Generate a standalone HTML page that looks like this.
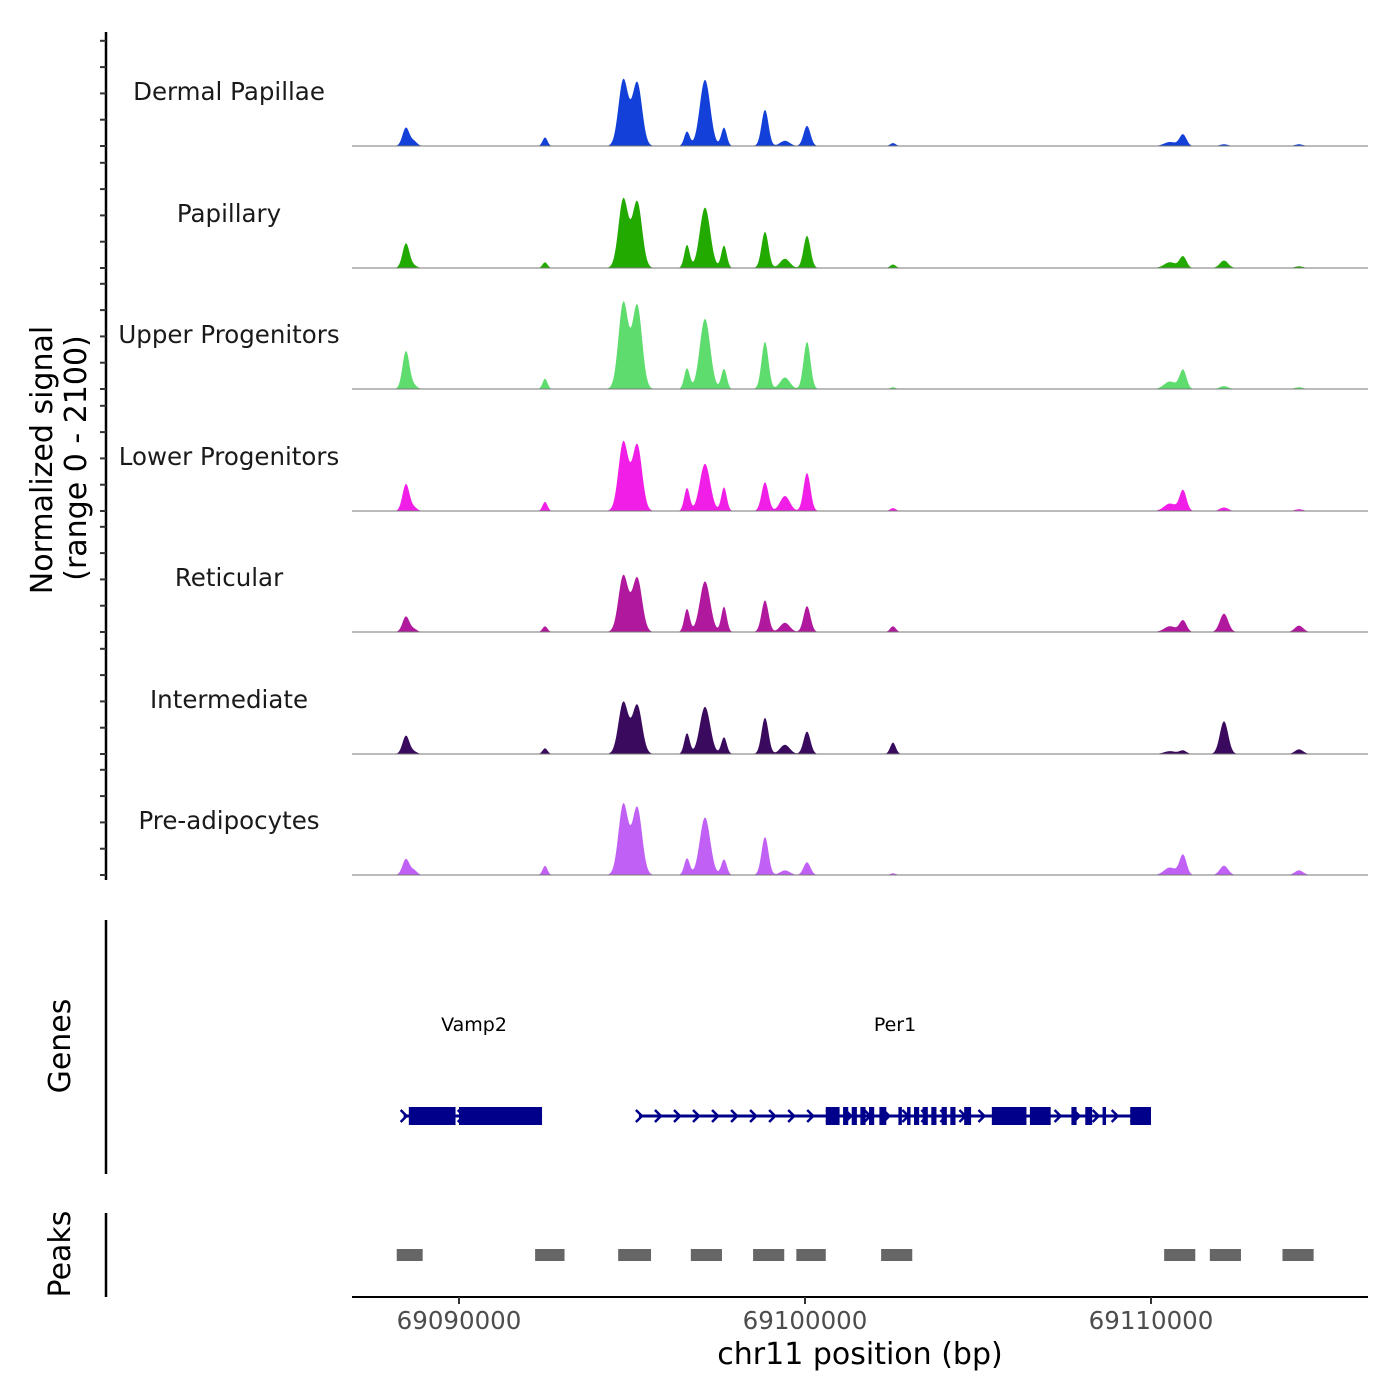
<!DOCTYPE html>
<html><head><meta charset="utf-8"><style>
body{margin:0;background:#fff;}
svg{display:block;font-family:"DejaVu Sans","Liberation Sans",sans-serif;}
</style></head><body>
<svg id="chart" width="1400" height="1400" viewBox="0 0 1400 1400" xmlns="http://www.w3.org/2000/svg">
<rect width="1400" height="1400" fill="#fff"/>
<g id="tracks"></g>
<line x1="106" y1="32" x2="106" y2="880" stroke="#000" stroke-width="2.5"/>
<g id="yticks"></g>
<text transform="translate(52,460) rotate(-90)" text-anchor="middle" font-size="30">Normalized signal</text>
<text transform="translate(86,458) rotate(-90)" text-anchor="middle" font-size="30">(range 0 - 2100)</text>
<line x1="106" y1="920" x2="106" y2="1174" stroke="#000" stroke-width="2.5"/>
<text transform="translate(70,1046) rotate(-90)" text-anchor="middle" font-size="30">Genes</text>
<line x1="106" y1="1213" x2="106" y2="1297" stroke="#000" stroke-width="2.5"/>
<text transform="translate(70,1254) rotate(-90)" text-anchor="middle" font-size="30">Peaks</text>
<g id="genes"></g>
<g id="peaks"></g>
<line x1="352" y1="1297" x2="1368" y2="1297" stroke="#000" stroke-width="2"/>
<g id="xticks"></g>
<text x="860" y="1364" text-anchor="middle" font-size="30">chr11 position (bp)</text>
</svg>
<script>
const trackNames=["Dermal Papillae","Papillary","Upper Progenitors","Lower Progenitors","Reticular","Intermediate","Pre-adipocytes"];
const trackColors=["#1340d8","#22aa00","#5edc6e","#f01ee6","#b0189e","#3a0a5e","#c060f5"];
const peakCenters=[69088468,69088700,69092486,69094750,69095150,69096590,69097110,69097659,69098844,69099420,69100058,69102543,69110550,69110925,69112110,69114277];
const peakWidths=[100,90,70,140,140,80,150,80,100,140,100,80,170,100,120,120];
const sigDP=[320,80,150,1150,1100,250,1150,320,630,90,350,50,70,200,30,30];
const sigPap=[430,40,100,1200,1150,400,1050,390,630,160,560,60,100,200,130,30];
const sigUp=[660,60,180,1500,1450,360,1220,350,820,200,820,30,130,330,50,30];
const sigLow=[470,60,160,1200,1150,400,820,410,500,260,660,50,130,360,60,30];
const sigRet=[270,50,100,980,940,400,880,440,550,160,450,100,100,200,320,110];
const sigInt=[320,40,100,900,850,360,820,290,630,160,390,200,50,60,570,80];
const sigPre=[280,80,160,1230,1170,290,1000,270,660,80,220,30,130,350,160,80];
const allSignals=[sigDP,sigPap,sigUp,sigLow,sigRet,sigInt,sigPre];
const geneNames=["Vamp2","Per1"];
const geneStarts=[69088400,69095200];
const geneEnds=[69092400,69110000];
const vampExons=[[69088550,69089900],[69090000,69092400]];
const per1Exons=[[69100600,69101000],[69101100,69101250],[69101350,69101500],[69101600,69101750],[69101850,69102000],[69102150,69102350],[69102700,69102800],[69102950,69103050],[69103150,69103300],[69103400,69103550],[69103650,69103800],[69103950,69104100],[69104200,69104350],[69104600,69104800],[69105400,69106400],[69106500,69107100],[69107700,69107850],[69108100,69108300],[69108600,69108700],[69109400,69110000]];
const peakStarts=[69088200,69092200,69094600,69096700,69098500,69099750,69102200,69110380,69111700,69113800];
const peakEnds=[69088950,69093050,69095550,69097600,69099400,69100600,69103100,69111280,69112600,69114700];
const xTicks=[69090000,69100000,69110000];

const NS="http://www.w3.org/2000/svg";
function el(t,a,p){const e=document.createElementNS(NS,t);for(const k in a)e.setAttribute(k,a[k]);p.appendChild(e);return e;}
const x=bp=>459+(bp-69090000)*0.0346;
const X0=352,X1=1368;
const baselines=[146,268,389,511,632,754,875];
const yScale=121/2100;
const tracks=document.getElementById('tracks');
allSignals.forEach((sig,t)=>{
  const base=baselines[t];
  const g=el('g',{},tracks);
  
  
  let d=`M${X0},${base}`;
  for(let px=X0;px<=X1;px+=1){
    const bp=69090000+(px-459)/0.0346;
    let v=0;
    peakCenters.forEach((c,i)=>{const z=(bp-c)/peakWidths[i];v+=sig[i]*Math.exp(-0.5*z*z);});
    d+=`L${px},${(base-v*yScale).toFixed(1)}`;
  }
  d+=`L${X1},${base}Z`;
  const p=el('path',{d,fill:trackColors[t]},g);
  
  
  const ln=el('line',{x1:X0,x2:X1,y1:base,y2:base,stroke:'#777','stroke-width':1},g);
  
  
  const lb=el('text',{x:229,y:base-46,'text-anchor':'middle','font-size':24.5,fill:'#1a1a1a'},g);
  
  
  lb.textContent=trackNames[t];
});
const yt=document.getElementById('yticks');
baselines.forEach(b=>{for(let k=0;k<5;k++){const yy=b-k*26.3;if(yy<30)continue;
  const tk=el('line',{x1:100,x2:106,y1:yy,y2:yy,stroke:'#333','stroke-width':2},yt);
  
  }});
const genes=document.getElementById('genes');
const gy=1116;
geneNames.forEach((n,i)=>{
  const lab=el('text',{x:i==0?474:895,y:1031,'text-anchor':'middle','font-size':19,fill:'#000'},genes);
  
  
  lab.textContent=n;
  const ln=el('line',{x1:x(geneStarts[i]),x2:x(geneEnds[i]),y1:gy,y2:gy,stroke:'#00008b','stroke-width':3},genes);
  
  
  for(let bp=geneStarts[i];bp<geneEnds[i];bp+=550){
    const ax=x(bp);
    const ar=el('path',{d:`M${ax-3},${gy-6}L${ax+3},${gy}L${ax-3},${gy+6}`,fill:'none',stroke:'#00008b','stroke-width':2.5},genes);
    
    
  }
});
vampExons.concat(per1Exons).forEach(e=>{
  const r=el('rect',{x:x(e[0]),y:gy-9,width:Math.max(3,x(e[1])-x(e[0])),height:18,fill:'#00008b'},genes);
  
  
});
const pk=document.getElementById('peaks');
peakStarts.forEach((s,i)=>{
  const r=el('rect',{x:x(s),y:1249,width:x(peakEnds[i])-x(s),height:12,fill:'#666'},pk);
  
  
});
const xt=document.getElementById('xticks');
xTicks.forEach(v=>{
  const tk=el('line',{x1:x(v),x2:x(v),y1:1297,y2:1304,stroke:'#333','stroke-width':2},xt);
  
  
  const tl=el('text',{x:x(v),y:1329,'text-anchor':'middle','font-size':24.5,fill:'#4d4d4d'},xt);
  
  
  tl.textContent=v;
});
</script>
</body></html>
